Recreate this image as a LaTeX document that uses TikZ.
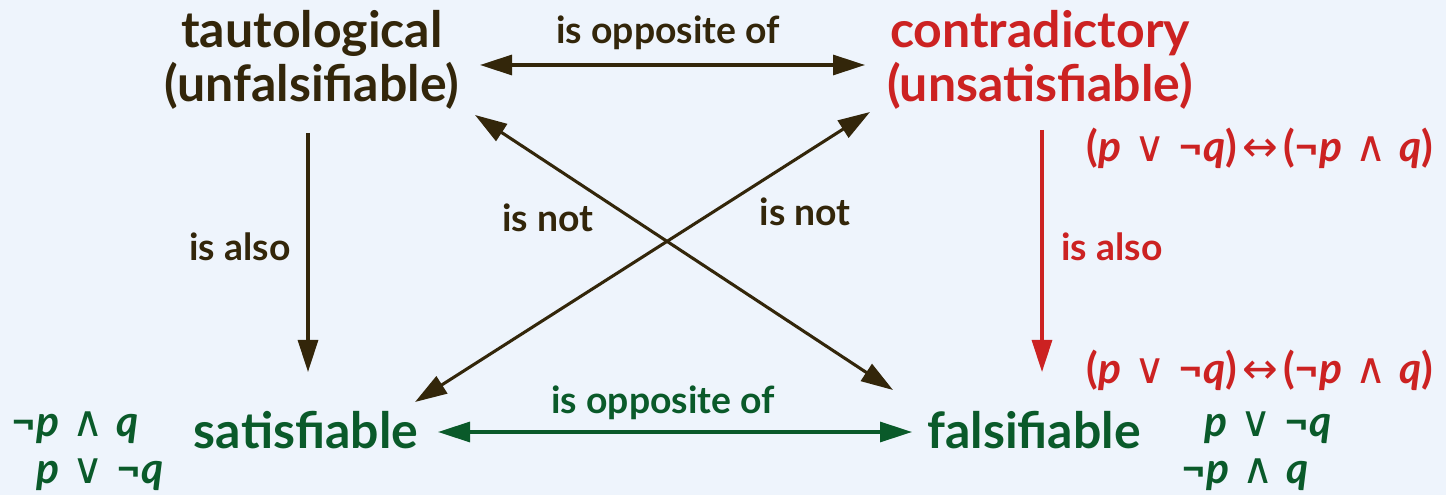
\documentclass[tikz,border=0pt]{standalone}
\usepackage{fontspec}
\setmainfont{Lato}
\newfontfamily\symf{DejaVu Sans}
\usetikzlibrary{arrows.meta}
\definecolor{bg}{HTML}{EEF4FC}
\definecolor{brn}{HTML}{33260A}
\definecolor{rd}{HTML}{CC2222}
\definecolor{grn}{HTML}{0A5A2A}
\newcommand\vp{\textit{p}}
\newcommand\vq{\textit{q}}
\newcommand\gapsp{\hspace{0.3em}}
\newcommand\myor{{\symf\mdseries ∨}}
\newcommand\myand{{\symf\mdseries ∧}}
\newcommand\myiff{\hspace{0.12em}{\symf\mdseries ↔}\hspace{0.12em}}
\newcommand\mynot{¬}
\begin{document}
\begin{tikzpicture}[x=0.75pt,y=-0.75pt,
  big/.style={font=\fontsize{37.5}{41}\selectfont\bfseries, align=center, inner sep=0pt},
  lbl/.style={font=\fontsize{28}{32}\selectfont\bfseries, inner sep=0pt},
  fml/.style={font=\fontsize{32}{36}\selectfont\bfseries, inner sep=0pt},
  arr/.style={line width=2.3pt, -{Triangle[length=24pt,width=15pt]}},
  darr/.style={line width=2.3pt, {Triangle[length=24pt,width=15pt]}-{Triangle[length=24pt,width=15pt]}}]
\fill[bg] (0,0) rectangle (1446,495);
\useasboundingbox (0,0) rectangle (1446,495);

\node[big, text=brn] (taut) at (312,60) {tautological\\(unfalsifiable)};
\node[big, text=rd] (contr) at (1040,60) {contradictory\\(unsatisfiable)};
\node[big, text=grn] (sat) at (306,430) {satisfiable};
\node[big, text=grn] (fals) at (1034,430) {falsifiable};

% endpoints
\coordinate (tE) at (480,65);
\coordinate (cW) at (865,65);
\coordinate (tS) at (308,133);
\coordinate (sN) at (308,372);
\coordinate (cS) at (1042,130);
\coordinate (fN) at (1042,372);
\coordinate (tSE) at (475,115);
\coordinate (fNW) at (893,390);
\coordinate (cSW) at (870,112);
\coordinate (sNE) at (415,402);
\coordinate (sE) at (438,432);
\coordinate (fW) at (912,432);

\draw[darr, brn] (tE) -- (cW);
\draw[arr, brn] (tS) -- (sN);
\draw[arr, rd] (cS) -- (fN);
\draw[darr, brn] (tSE) -- (fNW);
\draw[darr, brn] (sNE) -- (cSW);
\draw[darr, grn] (sE) -- (fW);

\node[lbl, text=brn] (l1) at (668,33) {is opposite of};
\node[lbl, text=grn] (l2) at (663,403) {is opposite of};
\node[lbl, text=brn] (l3) at (240,247) {is also};
\node[lbl, text=rd] (l4) at (1112,247) {is also};
\node[lbl, text=brn] (l5) at (548,218) {is not};
\node[lbl, text=brn] (l6) at (805,212) {is not};

\node[fml, text=rd] (f1) at (1260,148) {(\vp\gapsp\myor\gapsp\mynot\vq)\myiff(\mynot\vp\gapsp\myand\gapsp\vq)};
\node[fml, text=rd] (f2) at (1260,370) {(\vp\gapsp\myor\gapsp\mynot\vq)\myiff(\mynot\vp\gapsp\myand\gapsp\vq)};
\node[fml, text=grn] (f3) at (1268,428) {\vp\gapsp\myor\gapsp\mynot\vq};
\node[fml, text=grn] (f4) at (1245,475) {\mynot\vp\gapsp\myand\gapsp\vq};
\node[fml, text=grn] (f5) at (75,428) {\mynot\vp\gapsp\myand\gapsp\vq};
\node[fml, text=grn] (f6) at (100,475) {\vp\gapsp\myor\gapsp\mynot\vq};
\end{tikzpicture}
\end{document}
